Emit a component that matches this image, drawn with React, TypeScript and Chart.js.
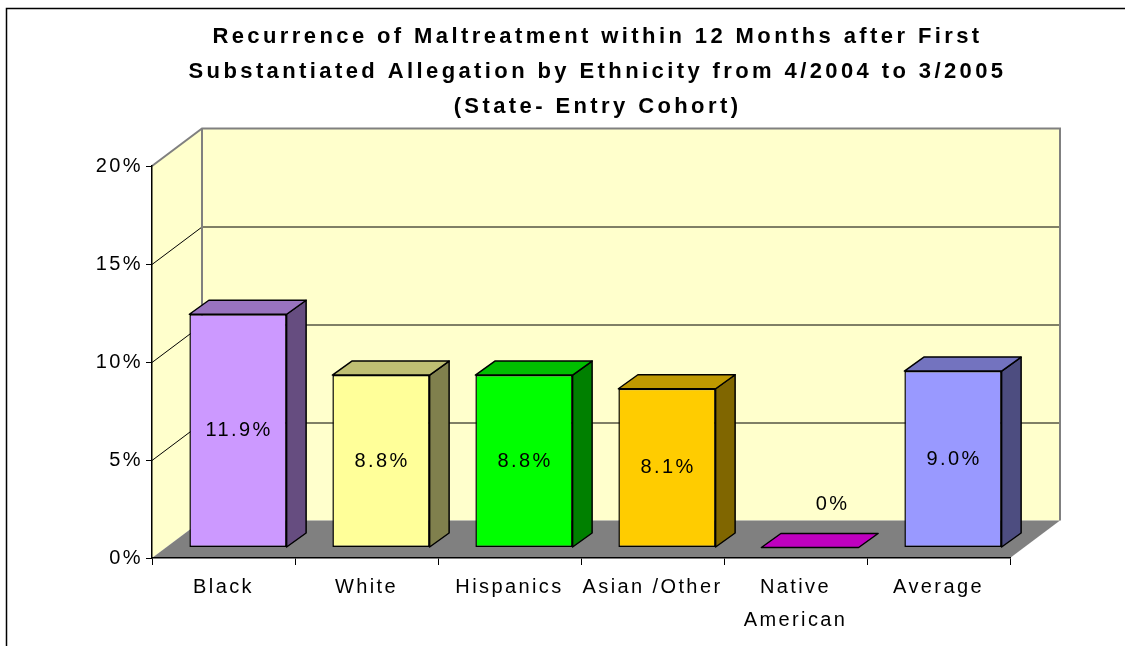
import React, { useEffect, useRef } from 'react';
import { Chart, registerables } from 'chart.js';

Chart.register(...registerables);

const TITLE_LINES = [
  'Recurrence of Maltreatment within 12 Months after First',
  'Substantiated Allegation by Ethnicity from 4/2004 to 3/2005',
  '(State- Entry Cohort)',
];
const CATEGORIES = [['Black'], ['White'], ['Hispanics'], ['Asian /Other'], ['Native', 'American'], ['Average']];
const VALUES = [11.9, 8.8, 8.8, 8.1, 0, 9.0];
const VALUE_LABELS = ['11.9%', '8.8%', '8.8%', '8.1%', '0%', '9.0%'];
const Y_MIN = 0;
const Y_MAX = 20;
const Y_STEP = 5;
const FRONT_COLORS = ['#CC99FF', '#FFFF99', '#00FF00', '#FFCC00', '#FF00FF', '#9999FF'];

const FONT = '"Liberation Sans", Arial, Helvetica, sans-serif';
const TEXT_SPACING = '2.4px';
const TITLE_SPACING = '3.4px';
const WALL_DX = 50;
const WALL_DY = -37.5;
const BAR_FRONT_DX = 14.5;
const BAR_FRONT_DY = -10.5;
const BAR_DEPTH_DX = 19.5;
const BAR_DEPTH_DY = -14;

function shade(hex: string, f: number): string {
  const n = parseInt(hex.slice(1), 16);
  const r = Math.round(((n >> 16) & 255) * f);
  const g = Math.round(((n >> 8) & 255) * f);
  const b = Math.round((n & 255) * f);
  return `rgb(${r},${g},${b})`;
}

function poly(ctx: CanvasRenderingContext2D, pts: number[][]) {
  ctx.beginPath();
  pts.forEach((p, i) => (i === 0 ? ctx.moveTo(p[0], p[1]) : ctx.lineTo(p[0], p[1])));
  ctx.closePath();
}

const threeD = {
  id: 'threeD',
  afterLayout(chart: any) {
    const tb = chart.titleBlock;
    if (tb && !tb.__wrapped) {
      const orig = tb.draw;
      tb.draw = function (...args: any[]) {
        const c = chart.ctx as any;
        c.save();
        c.letterSpacing = TITLE_SPACING;
        orig.apply(this, args);
        c.restore();
      };
      tb.__wrapped = true;
    }
    if (tb) {
      tb.left = 150;
      tb.right = 1045;
    }
  },
  beforeDraw(chart: any) {
    const { ctx, chartArea: a, scales } = chart;
    (ctx as any).letterSpacing = TEXT_SPACING;
    const y = scales.y;
    const T = y.getPixelForValue(Y_MAX);
    const B = y.getPixelForValue(Y_MIN);
    const L = a.left;
    const R = a.right;
    ctx.save();
    ctx.fillStyle = '#FFFFFF';
    ctx.fillRect(0, 0, chart.width, chart.height);
    // back wall
    ctx.fillStyle = '#FFFFCC';
    poly(ctx, [[L + WALL_DX, T + WALL_DY], [R + WALL_DX, T + WALL_DY], [R + WALL_DX, B + WALL_DY], [L + WALL_DX, B + WALL_DY]]);
    ctx.fill();
    // side wall
    poly(ctx, [[L, T], [L + WALL_DX, T + WALL_DY], [L + WALL_DX, B + WALL_DY], [L, B]]);
    ctx.fill();
    // floor
    ctx.fillStyle = '#808080';
    poly(ctx, [[L, B], [R, B], [R + WALL_DX, B + WALL_DY], [L + WALL_DX, B + WALL_DY]]);
    ctx.fill();
    // gridlines
    ctx.strokeStyle = '#000000';
    ctx.lineWidth = 1;
    for (let v = Y_MIN + Y_STEP; v < Y_MAX; v += Y_STEP) {
      const py = Math.round(y.getPixelForValue(v)) + 0.5;
      ctx.beginPath();
      ctx.moveTo(L, py);
      ctx.lineTo(L + WALL_DX, py + WALL_DY);
      ctx.lineTo(R + WALL_DX, py + WALL_DY);
      ctx.stroke();
    }
    // wall edges
    ctx.strokeStyle = '#808080';
    ctx.lineWidth = 2;
    ctx.beginPath();
    ctx.moveTo(L, T);
    ctx.lineTo(L + WALL_DX, T + WALL_DY);
    ctx.lineTo(R + WALL_DX, T + WALL_DY);
    ctx.lineTo(R + WALL_DX, B + WALL_DY);
    ctx.moveTo(L + WALL_DX, T + WALL_DY);
    ctx.lineTo(L + WALL_DX, B + WALL_DY);
    ctx.stroke();
    ctx.restore();
  },
  beforeDatasetsDraw(chart: any) {
    chart.ctx.save();
    chart.ctx.translate(BAR_FRONT_DX, BAR_FRONT_DY);
  },
  afterDatasetsDraw(chart: any) {
    const ctx = chart.ctx as CanvasRenderingContext2D;
    const meta = chart.getDatasetMeta(0);
    meta.data.forEach((bar: any, i: number) => {
      const { x, y, base, width } = bar.getProps(['x', 'y', 'base', 'width'], true);
      const xl = x - width / 2;
      const xr = x + width / 2;
      const col = FRONT_COLORS[i];
      ctx.lineWidth = 1.5;
      ctx.strokeStyle = '#000000';
      ctx.lineJoin = 'round';
      const hasHeight = base - y > 0.5;
      // side
      if (hasHeight) {
        ctx.fillStyle = shade(col, 0.5);
        poly(ctx, [[xr, y], [xr + BAR_DEPTH_DX, y + BAR_DEPTH_DY], [xr + BAR_DEPTH_DX, base + BAR_DEPTH_DY], [xr, base]]);
        ctx.fill();
        ctx.stroke();
      }
      // top
      ctx.fillStyle = shade(col, 0.75);
      poly(ctx, [[xl, y], [xr, y], [xr + BAR_DEPTH_DX, y + BAR_DEPTH_DY], [xl + BAR_DEPTH_DX, y + BAR_DEPTH_DY]]);
      ctx.fill();
      ctx.stroke();
      // label
      ctx.fillStyle = '#000000';
      ctx.font = `20px ${FONT}`;
      ctx.textAlign = 'center';
      ctx.textBaseline = 'middle';
      const lx = hasHeight ? x : x + BAR_DEPTH_DX + 2;
      const ly = hasHeight ? (y + base) / 2 : base - 43;
      ctx.fillText(VALUE_LABELS[i], lx + 1, ly);
    });
    ctx.restore();
  },
  afterDraw(chart: any) {
    const ctx = chart.ctx as CanvasRenderingContext2D;
    ctx.save();
    ctx.strokeStyle = '#000000';
    ctx.lineWidth = 1.5;
    ctx.beginPath();
    ctx.moveTo(6.5, chart.height);
    ctx.lineTo(6.5, 8.5);
    ctx.lineTo(chart.width, 8.5);
    ctx.stroke();
    ctx.restore();
  },
};

export default function App() {
  const ref = useRef<HTMLCanvasElement | null>(null);
  useEffect(() => {
    if (!ref.current) return;
    const chart = new Chart(ref.current, {
      type: 'bar',
      data: {
        labels: CATEGORIES,
        datasets: [
          {
            data: VALUES,
            backgroundColor: FRONT_COLORS,
            borderColor: '#000000',
            borderWidth: 1.5,
            borderSkipped: false,
            barPercentage: 0.68,
            categoryPercentage: 1,
            clip: false as any,
          },
        ],
      },
      options: {
        animation: false,
        responsive: true,
        maintainAspectRatio: false,
        layout: { padding: { left: 0, right: 115, top: 0, bottom: 0 } },
        plugins: {
          legend: { display: false },
          tooltip: { enabled: false },
          title: {
            display: true,
            text: TITLE_LINES,
            color: '#000000',
            font: { family: FONT, size: 22, weight: 'bold', lineHeight: 35 / 22 },
            padding: { top: 19, bottom: 42 },
          },
        },
        scales: {
          x: {
            type: 'category',
            offset: true,
            grid: { display: true, offset: true, drawOnChartArea: false, drawTicks: true, tickLength: 7, color: '#000000' },
            border: { display: true, color: '#000000', width: 1.5 },
            ticks: { color: '#000000', font: { family: FONT, size: 20, lineHeight: 1.65 }, padding: 6, maxRotation: 0, autoSkip: false },
            afterFit: (s: any) => {
              s.height = 88;
            },
          },
          y: {
            type: 'linear',
            min: Y_MIN,
            max: Y_MAX,
            grid: { display: true, drawOnChartArea: false, drawTicks: true, tickLength: 6, color: '#000000' },
            border: { display: true, color: '#000000', width: 1.5 },
            ticks: {
              stepSize: Y_STEP,
              color: '#000000',
              font: { family: FONT, size: 20 },
              padding: 3,
              callback: (v: any) => `${v}%`,
            },
            afterFit: (s: any) => {
              s.width = 152;
            },
          },
        },
      },
      plugins: [threeD],
    });
    return () => chart.destroy();
  }, []);
  return (
    <div style={{ position: 'absolute', left: 0, top: 0, width: 1125, height: 646 }}>
      <canvas ref={ref} />
    </div>
  );
}
